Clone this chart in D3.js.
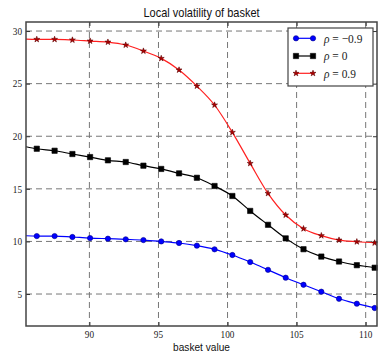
<!DOCTYPE html>
<html><head><meta charset="utf-8">
<script src="https://cdn.jsdelivr.net/npm/d3@7"></script>
<style>
html,body{margin:0;padding:0;background:#fff;}
svg{display:block;}
</style></head>
<body>
<script>
// ---- data ----
const basketValues = [86.19, 87.48, 88.77, 90.05, 91.34, 92.63, 93.91, 95.20, 96.49, 97.78,
  99.06, 100.35, 101.64, 102.93, 104.21, 105.50, 106.79, 108.07, 109.36, 110.65];
const lineEdges = [85.41, 110.82];           // x where the curves meet the frame
const volRhoNeg = [10.51, 10.51, 10.42, 10.32, 10.26, 10.20, 10.13, 10.00, 9.85, 9.60,
  9.25, 8.71, 8.04, 7.30, 6.55, 5.88, 5.22, 4.55, 4.08, 3.67];
const volRhoNegEdges = [10.54, 3.60];
const volRhoZero = [18.81, 18.62, 18.31, 18.02, 17.71, 17.55, 17.20, 16.89, 16.47, 16.05,
  15.27, 14.32, 12.90, 11.58, 10.29, 9.26, 8.56, 8.09, 7.74, 7.50];
const volRhoZeroEdges = [19.00, 7.45];
const volRhoPos = [29.21, 29.21, 29.15, 29.05, 28.95, 28.67, 28.10, 27.40, 26.30, 24.77,
  22.97, 20.37, 17.42, 14.57, 12.51, 11.21, 10.55, 10.13, 9.97, 9.86];
const volRhoPosEdges = [29.24, 9.84];
const seriesLabels = ["ρ = −0.9", "ρ = 0", "ρ = 0.9"];
const xTicks = [90, 95, 100, 105, 110];
const yTicks = [5, 10, 15, 20, 25, 30];
const xDomain = [85.41, 110.82];
const yDomain = [1.96, 30.86];
const titleText = "Local volatility of basket";
const xLabelText = "basket value";

// ---- layout ----
const W = 378, H = 353;
const L = 26, R = 377, T = 22, B = 326;
const SQ = 0.88; // horizontal squeeze of text

const svg = d3.select("body").append("svg").attr("width", W).attr("height", H);
const x = d3.scaleLinear().domain(xDomain).range([L, R]);
const y = d3.scaleLinear().domain(yDomain).range([B, T]);

svg.append("defs").append("clipPath").attr("id", "clip")
  .append("rect").attr("x", L).attr("y", T).attr("width", R - L).attr("height", B - T);

// grid
const grid = svg.append("g");
grid.selectAll("line.gx").data(xTicks).join("line")
  .attr("x1", d => x(d)).attr("x2", d => x(d)).attr("y1", T).attr("y2", B)
  .attr("stroke", "#777").attr("stroke-width", 1).attr("stroke-dasharray", "6,4");
grid.selectAll("line.gy").data(yTicks).join("line")
  .attr("y1", d => y(d)).attr("y2", d => y(d)).attr("x1", L).attr("x2", R)
  .attr("stroke", "#777").attr("stroke-width", 1).attr("stroke-dasharray", "6,4");

// axes (inward ticks)
const axB = svg.append("g").attr("transform", `translate(0,${B})`)
  .call(d3.axisBottom(x).tickValues(xTicks).tickSize(-4).tickFormat(""));
const axT = svg.append("g").attr("transform", `translate(0,${T})`)
  .call(d3.axisTop(x).tickValues(xTicks).tickSize(-4).tickFormat(""));
const axL = svg.append("g").attr("transform", `translate(${L},0)`)
  .call(d3.axisLeft(y).tickValues(yTicks).tickSize(-4).tickFormat(""));
const axR = svg.append("g").attr("transform", `translate(${R},0)`)
  .call(d3.axisRight(y).tickValues(yTicks).tickSize(-4).tickFormat(""));
[axB, axT, axL, axR].forEach(a => {
  a.select(".domain").remove();
  a.selectAll(".tick line").attr("stroke", "#333").attr("stroke-width", 1);
});

// tick labels drawn as squeezed serif text
svg.append("g").selectAll("text").data(xTicks).join("text")
  .attr("transform", d => `translate(${x(d)},${B + 8}) scale(${SQ},1)`)
  .attr("text-anchor", "middle").attr("dominant-baseline", "central")
  .attr("font-family", "Liberation Serif").attr("font-size", 10.5).attr("fill", "#222")
  .text(d => d);
svg.append("g").selectAll("text").data(yTicks).join("text")
  .attr("transform", d => `translate(${L - 4},${y(d)}) scale(${SQ},1)`)
  .attr("text-anchor", "end").attr("dominant-baseline", "central")
  .attr("font-family", "Liberation Serif").attr("font-size", 10.5).attr("fill", "#222")
  .text(d => d);

// series
const series = [
  {vals: volRhoNeg, edges: volRhoNegEdges, line: "#0000ff", fill: "#0000ff", stroke: "#00008b", sym: "circle"},
  {vals: volRhoZero, edges: volRhoZeroEdges, line: "#000000", fill: "#000000", stroke: "#000000", sym: "square"},
  {vals: volRhoPos, edges: volRhoPosEdges, line: "#ff2020", fill: "#b00000", stroke: "#600000", sym: "star"}
];
const lineGen = d3.line().x(d => x(d[0])).y(d => y(d[1])).curve(d3.curveMonotoneX);
const symSize = {circle: 22, square: 28, star: 11};
const symType = {circle: d3.symbolCircle, square: d3.symbolSquare, star: d3.symbolStar};

const plot = svg.append("g").attr("clip-path", "url(#clip)");
series.forEach(s => {
  const pts = [[lineEdges[0], s.edges[0]]]
    .concat(basketValues.map((v, i) => [v, s.vals[i]]))
    .concat([[lineEdges[1], s.edges[1]]]);
  plot.append("path").datum(pts).attr("d", lineGen)
    .attr("fill", "none").attr("stroke", s.line).attr("stroke-width", 1.2);
});
series.forEach(s => {
  svg.append("g").selectAll("path").data(basketValues).join("path")
    .attr("transform", (v, i) => `translate(${x(v)},${y(s.vals[i])})`)
    .attr("d", d3.symbol().type(symType[s.sym]).size(symSize[s.sym]))
    .attr("fill", s.fill).attr("stroke", s.stroke).attr("stroke-width", 0.6);
});

// frame
svg.append("rect").attr("x", L).attr("y", T).attr("width", R - L).attr("height", B - T)
  .attr("fill", "none").attr("stroke", "#444").attr("stroke-width", 1.5);

// legend
const lg = svg.append("g");
lg.append("rect").attr("x", 288).attr("y", 28).attr("width", 85).attr("height", 58)
  .attr("fill", "#fff").attr("stroke", "#444").attr("stroke-width", 1.2);
const legY = [38.3, 56, 73.3];
series.forEach((s, i) => {
  lg.append("line").attr("x1", 296).attr("x2", 313).attr("y1", legY[i]).attr("y2", legY[i])
    .attr("stroke", s.line).attr("stroke-width", 1.2);
  [296, 313].forEach(px => {
    lg.append("path").attr("transform", `translate(${px},${legY[i]})`)
      .attr("d", d3.symbol().type(symType[s.sym]).size(symSize[s.sym]))
      .attr("fill", s.fill).attr("stroke", s.stroke).attr("stroke-width", 0.6);
  });
  const t = lg.append("text")
    .attr("transform", `translate(324,${legY[i]}) scale(${SQ},1)`)
    .attr("dominant-baseline", "central")
    .attr("font-family", "Liberation Serif").attr("font-size", 13).attr("fill", "#222");
  const parts = seriesLabels[i].split(" = ");
  t.append("tspan").attr("font-style", "italic").text(parts[0]);
  t.append("tspan").attr("xml:space", "preserve").text(" = " + parts[1]);
});

// title and x label
svg.append("text").attr("transform", `translate(${(L + R) / 2},17) scale(${SQ},1)`)
  .attr("text-anchor", "middle").attr("font-family", "Liberation Sans").attr("font-size", 12.5)
  .attr("fill", "#111").text(titleText);
svg.append("text").attr("transform", `translate(${(L + R) / 2},351) scale(${SQ},1)`)
  .attr("text-anchor", "middle").attr("font-family", "Liberation Sans").attr("font-size", 11.5)
  .attr("fill", "#111").text(xLabelText);
</script>
</body></html>
